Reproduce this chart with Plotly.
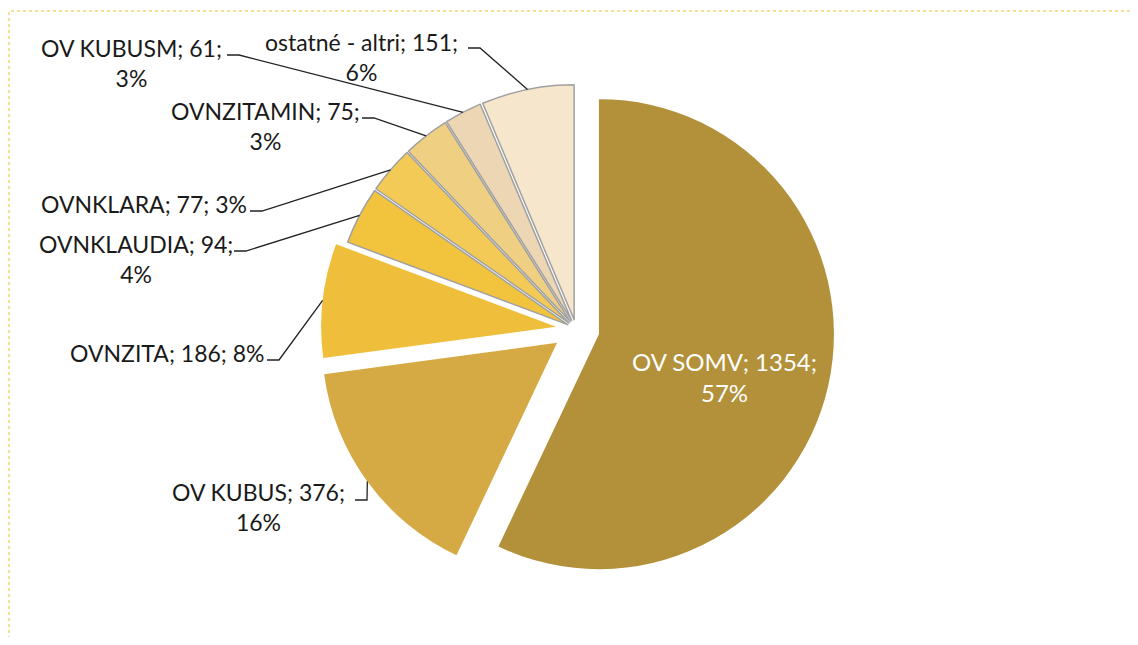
import math
import plotly.graph_objects as go

# ---- data ----
labels = ["OV SOMV", "OV KUBUS", "OVNZITA", "OVNKLAUDIA", "OVNKLARA",
          "OVNZITAMIN", "OV KUBUSM", "ostatné - altri"]
values = [1354, 376, 186, 94, 77, 75, 61, 151]
colors = ["#B2913A", "#D5AA45", "#EFBE3A", "#F2C43E", "#F3CA55",
          "#EFCF82", "#ECD6B4", "#F5E6CC"]
pulls = [0.10, 0.10, 0.085, 0.04, 0.04, 0.04, 0.04, 0.04]

# ---- layout geometry (screen px; page body has 8px margin) ----
OFF = 8
W, H = 1138 - 2 * OFF, 645 - 2 * OFF
CX, CY, R = 576, 329, 235          # pie centre / radius in screen px

def px(x):
    return (x - OFF) / W

def py(y):
    return 1 - (y - OFF) / H

half = R * (1 + max(pulls))
dom_x = [px(CX - half), px(CX + half)]
dom_y = [py(CY + half), py(CY - half)]

total = sum(values)
pct = [round(v / total * 100) for v in values]

# label placement: centre of text block, leader start, two-line?, inside?
label_layout = {
    "OV SOMV":         dict(c=(724, 377), s=None, two=True, inside=True),
    "OV KUBUS":        dict(c=(258, 507), s=(355, 500), two=True),
    "OVNZITA":         dict(c=(167, 353), s=(267, 360), two=False),
    "OVNKLAUDIA":      dict(c=(136, 259), s=(234, 251), two=True),
    "OVNKLARA":        dict(c=(144, 204), s=(250, 211), two=False),
    "OVNZITAMIN":      dict(c=(265, 126), s=(362, 118), two=True),
    "OV KUBUSM":       dict(c=(131, 63), s=(227, 55), two=True),
    "ostatné - altri": dict(c=(361, 57), s=(468, 48), two=True),
}

line_w = [0, 0, 0, 1.5, 1.5, 1.5, 1.5, 1.5]

fig = go.Figure(go.Pie(
    labels=labels, values=values, sort=False, direction="clockwise",
    rotation=0, pull=pulls,
    marker=dict(colors=colors, line=dict(color="#A0A0A0", width=line_w)),
    textinfo="none",
    domain=dict(x=dom_x, y=dom_y), hoverinfo="label+value+percent",
    showlegend=False,
))

annotations = []
shapes = []
cum = 0
for lab, v, p, pl in zip(labels, values, pct, pulls):
    a0 = cum / total * 360
    cum += v
    a1 = cum / total * 360
    L = label_layout[lab]
    if L["two"]:
        txt = f"{lab}; {v};<br>{p}%"
    else:
        txt = f"{lab}; {v}; {p}%"
    inside = L.get("inside", False)
    annotations.append(dict(
        x=px(L["c"][0]), y=py(L["c"][1]), xref="paper", yref="paper",
        text=txt, showarrow=False, xanchor="center", yanchor="middle",
        align="center",
        font=dict(family="Lato", size=24 if inside else 23,
                  color="white" if inside else "#1a1a1a"),
    ))
    if L["s"] is None:
        continue
    mid = math.radians((a0 + a1) / 2)
    dx, dy = math.sin(mid), -math.cos(mid)
    tipx = CX + (R + pl * R) * dx
    tipy = CY + (R + pl * R) * dy
    sx, sy = L["s"]
    path = (f"M {px(sx)},{py(sy)} L {px(sx + 12)},{py(sy)} "
            f"L {px(tipx)},{py(tipy)}")
    shapes.append(dict(type="path", path=path, xref="paper", yref="paper",
                       line=dict(color="#222222", width=1.3)))

shapes.append(dict(type="rect", xref="paper", yref="paper",
                   x0=px(9), y0=py(1000), x1=px(1200), y1=py(11),
                   line=dict(color="#F0D870", width=1.5, dash="dot")))

fig.update_layout(
    width=W, height=H, margin=dict(l=0, r=0, t=0, b=0),
    paper_bgcolor="white", plot_bgcolor="white",
    annotations=annotations, shapes=shapes,
    font=dict(family="Lato"),
)

fig.write_html("out.html")
